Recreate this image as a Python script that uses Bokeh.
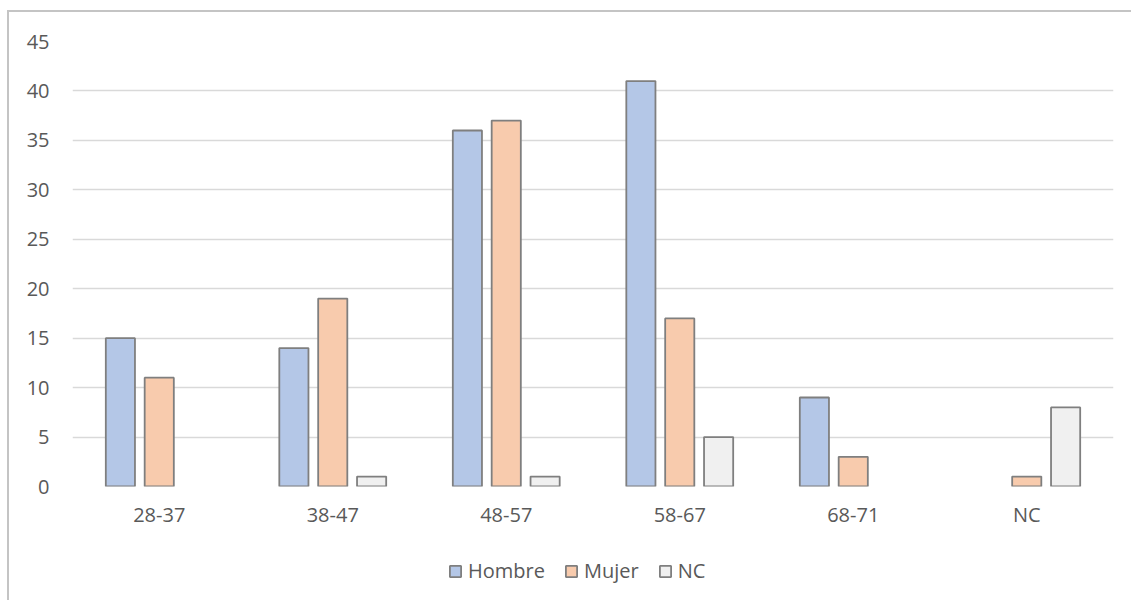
from bokeh.plotting import figure
from bokeh.layouts import column
from bokeh.models import ColumnDataSource, FactorRange, Range1d, SingleIntervalTicker, Legend, LegendItem
from bokeh.transform import dodge
from bokeh.embed import file_html
from bokeh.resources import INLINE

categories = ["28-37", "38-47", "48-57", "58-67", "68-71", "NC"]
hombre = [15, 14, 36, 41, 9, 0]
mujer = [11, 19, 37, 17, 3, 1]
nc = [0, 1, 1, 5, 0, 8]
series_names = ["Hombre", "Mujer", "NC"]
series_values = [hombre, mujer, nc]
colors = ["#B4C7E7", "#F8CBAD", "#F0F0F0"]
offsets = [-0.224, 0.0, 0.224]

FONT = "Open Sans"
TXT = "#595959"
EDGE = "#7F7F7F"
W = 1122

p = figure(x_range=FactorRange(factors=categories), y_range=Range1d(0, 45),
           width=W, height=528, output_backend="svg", toolbar_location=None,
           min_border_left=63, min_border_right=18, min_border_top=29, min_border_bottom=54)
p.outline_line_color = None
p.xgrid.grid_line_color = None
p.ygrid.grid_line_color = "#D9D9D9"
p.ygrid.grid_line_width = 1.5
p.yaxis.ticker = SingleIntervalTicker(interval=5)

for ax in (p.xaxis[0], p.yaxis[0]):
    ax.axis_line_color = None
    ax.major_tick_line_color = None
    ax.minor_tick_line_color = None
    ax.major_label_text_font = FONT
    ax.major_label_text_font_size = "20px"
    ax.major_label_text_color = TXT
p.xaxis.major_label_standoff = 8
p.yaxis.major_label_standoff = 17

for name, vals, col, off in zip(series_names, series_values, colors, offsets):
    cats = [c for c, v in zip(categories, vals) if v > 0]
    tops = [v for v in vals if v > 0]
    src = ColumnDataSource(dict(cat=cats, top=tops))
    p.vbar(x=dodge("cat", off, range=p.x_range), top="top", width=0.168, source=src,
           fill_color=col, line_color=EDGE, line_width=1.8)

# legend strip below the chart (its proxy bars have zero size)
pl = figure(width=W, height=60, output_backend="svg", toolbar_location=None,
            x_range=Range1d(0, 1), y_range=Range1d(0, 1),
            x_axis_location=None, y_axis_location=None, min_border=0)
pl.outline_line_color = None
pl.grid.visible = False
items = []
for name, col in zip(series_names, colors):
    r = pl.vbar(x=[0.5], top=[0], bottom=[0], width=0, fill_color=col,
                line_color=EDGE, line_width=1.8)
    items.append(LegendItem(label=name, renderers=[r]))
legend = Legend(items=items, orientation="horizontal", location=(376, 16),
                padding=0, margin=0, spacing=19, label_standoff=6,
                glyph_width=14, glyph_height=14, border_line_color=None,
                background_fill_alpha=0, label_text_font=FONT,
                label_text_font_size="20px", label_text_color=TXT)
pl.add_layout(legend)

layout = column(p, pl, spacing=0)
layout.styles = {"margin-top": "10px", "margin-left": "7px",
                 "border-left": "2px solid #C4C4C4", "border-top": "2px solid #C4C4C4"}

open("out.html", "w").write(file_html(layout, INLINE))
